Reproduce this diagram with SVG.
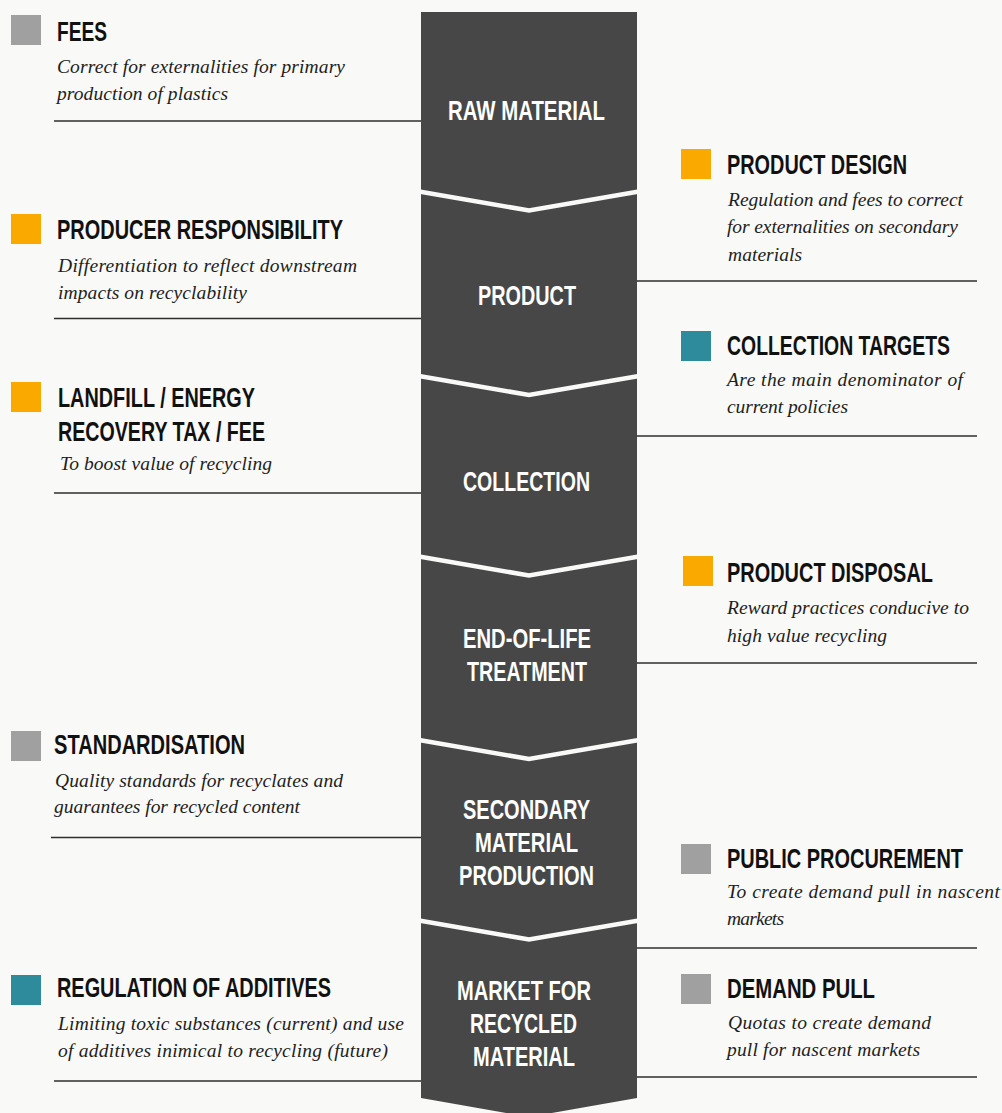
<svg xmlns="http://www.w3.org/2000/svg" width="1002" height="1113" viewBox="0 0 1002 1113">
<style>
.bg{fill:#f9f9f7}
.col{fill:#474747}
.sep{fill:none;stroke:#f9f9f7;stroke-width:4.5;stroke-linejoin:miter}
.h{font-family:"Liberation Sans",Arial,sans-serif;font-weight:bold;font-size:27.5px;fill:#111}
.c{font-family:"Liberation Sans",Arial,sans-serif;font-weight:bold;font-size:27.5px;fill:#fff;text-anchor:middle}
.d{font-family:"Liberation Serif","Times New Roman",serif;font-style:italic;font-size:19.5px;fill:#1e1e1e}
.rule{stroke:#2e2e2e;stroke-width:1.4;fill:none}
.grey{fill:#a0a0a0}
.orange{fill:#f9a900}
.teal{fill:#2e8b9b}
</style>
<rect class="bg" x="0" y="0" width="1002" height="1113"/>

<g id="column">
<path class="col" d="M421,12 H637 V1098 L529,1117 L421,1098 Z"/>
<polyline class="sep" points="419,191.5 529,210.5 639,191.5"/>
<polyline class="sep" points="419,376 529,395 639,376"/>
<polyline class="sep" points="419,556.5 529,575.5 639,556.5"/>
<polyline class="sep" points="419,740 529,759 639,740"/>
<polyline class="sep" points="419,920.5 529,939.5 639,920.5"/>
</g>

<g id="stage-raw-material">
<text class="c" transform="translate(526.5 120) scale(0.72 1)" textLength="218.1" lengthAdjust="spacingAndGlyphs">RAW MATERIAL</text>
</g>
<g id="stage-product">
<text class="c" transform="translate(527 305) scale(0.72 1)" textLength="136.1" lengthAdjust="spacingAndGlyphs">PRODUCT</text>
</g>
<g id="stage-collection">
<text class="c" transform="translate(526.5 491) scale(0.72 1)" textLength="176.4" lengthAdjust="spacingAndGlyphs">COLLECTION</text>
</g>
<g id="stage-end-of-life">
<text class="c" transform="translate(527 648) scale(0.72 1)" textLength="177.8" lengthAdjust="spacingAndGlyphs">END-OF-LIFE</text>
<text class="c" transform="translate(527 681) scale(0.72 1)" textLength="166.7" lengthAdjust="spacingAndGlyphs">TREATMENT</text>
</g>
<g id="stage-secondary">
<text class="c" transform="translate(526.5 819) scale(0.72 1)" textLength="176.4" lengthAdjust="spacingAndGlyphs">SECONDARY</text>
<text class="c" transform="translate(526.5 852) scale(0.72 1)" textLength="143.1" lengthAdjust="spacingAndGlyphs">MATERIAL</text>
<text class="c" transform="translate(526.5 885) scale(0.72 1)" textLength="187.5" lengthAdjust="spacingAndGlyphs">PRODUCTION</text>
</g>
<g id="stage-market">
<text class="c" transform="translate(524 1000) scale(0.72 1)" textLength="186.1" lengthAdjust="spacingAndGlyphs">MARKET FOR</text>
<text class="c" transform="translate(523.5 1033) scale(0.72 1)" textLength="148.6" lengthAdjust="spacingAndGlyphs">RECYCLED</text>
<text class="c" transform="translate(524 1066) scale(0.72 1)" textLength="141.7" lengthAdjust="spacingAndGlyphs">MATERIAL</text>
</g>

<g id="connectors">
<line class="rule" x1="54" y1="121" x2="421" y2="121"/>
<line class="rule" x1="54" y1="318.5" x2="421" y2="318.5"/>
<line class="rule" x1="54" y1="493" x2="421" y2="493"/>
<line class="rule" x1="51" y1="837.5" x2="421" y2="837.5"/>
<line class="rule" x1="54" y1="1081" x2="421" y2="1081"/>
<line class="rule" x1="637" y1="281" x2="977" y2="281"/>
<line class="rule" x1="637" y1="436" x2="977" y2="436"/>
<line class="rule" x1="637" y1="663" x2="977" y2="663"/>
<line class="rule" x1="637" y1="948" x2="977" y2="948"/>
<line class="rule" x1="637" y1="1077" x2="977" y2="1077"/>
</g>

<g id="fees">
<rect class="grey" x="11" y="15" width="30" height="30"/>
<text class="h" transform="translate(57 41) scale(0.72 1)" textLength="69.4" lengthAdjust="spacingAndGlyphs">FEES</text>
<text class="d" x="57" y="73" textLength="288" lengthAdjust="spacing">Correct for externalities for primary</text>
<text class="d" x="57" y="100" textLength="171" lengthAdjust="spacing">production of plastics</text>
</g>

<g id="producer-responsibility">
<rect class="orange" x="11" y="214" width="30" height="30"/>
<text class="h" transform="translate(57 239) scale(0.72 1)" textLength="397.2" lengthAdjust="spacingAndGlyphs">PRODUCER RESPONSIBILITY</text>
<text class="d" x="58" y="272" textLength="299" lengthAdjust="spacing">Differentiation to reflect downstream</text>
<text class="d" x="58" y="299" textLength="189" lengthAdjust="spacing">impacts on recyclability</text>
</g>

<g id="landfill-tax">
<rect class="orange" x="11" y="382" width="30" height="30"/>
<text class="h" transform="translate(58 407) scale(0.72 1)" textLength="273.6" lengthAdjust="spacingAndGlyphs">LANDFILL / ENERGY</text>
<text class="h" transform="translate(58 441) scale(0.72 1)" textLength="287.5" lengthAdjust="spacingAndGlyphs">RECOVERY TAX / FEE</text>
<text class="d" x="60" y="470" textLength="212" lengthAdjust="spacing">To boost value of recycling</text>
</g>

<g id="standardisation">
<rect class="grey" x="11" y="731" width="30" height="30"/>
<text class="h" transform="translate(54 754) scale(0.72 1)" textLength="265.3" lengthAdjust="spacingAndGlyphs">STANDARDISATION</text>
<text class="d" x="55" y="787" textLength="288" lengthAdjust="spacing">Quality standards for recyclates and</text>
<text class="d" x="54" y="813" textLength="246" lengthAdjust="spacing">guarantees for recycled content</text>
</g>

<g id="regulation-additives">
<rect class="teal" x="11" y="975" width="30" height="30"/>
<text class="h" transform="translate(57 997) scale(0.72 1)" textLength="380.6" lengthAdjust="spacingAndGlyphs">REGULATION OF ADDITIVES</text>
<text class="d" x="58" y="1030" textLength="346" lengthAdjust="spacing">Limiting toxic substances (current) and use</text>
<text class="d" x="58" y="1057" textLength="330" lengthAdjust="spacing">of additives inimical to recycling (future)</text>
</g>

<g id="product-design">
<rect class="orange" x="681" y="149" width="30" height="30"/>
<text class="h" transform="translate(727 174) scale(0.72 1)" textLength="250" lengthAdjust="spacingAndGlyphs">PRODUCT DESIGN</text>
<text class="d" x="728" y="206" textLength="235" lengthAdjust="spacing">Regulation and fees to correct</text>
<text class="d" x="727" y="233" textLength="231" lengthAdjust="spacing">for externalities on secondary</text>
<text class="d" x="728" y="261" textLength="74" lengthAdjust="spacing">materials</text>
</g>

<g id="collection-targets">
<rect class="teal" x="681" y="331" width="30" height="30"/>
<text class="h" transform="translate(727 355) scale(0.72 1)" textLength="309.7" lengthAdjust="spacingAndGlyphs">COLLECTION TARGETS</text>
<text class="d" x="727" y="386" textLength="236" lengthAdjust="spacing">Are the main denominator of</text>
<text class="d" x="727" y="413" textLength="121" lengthAdjust="spacing">current policies</text>
</g>

<g id="product-disposal">
<rect class="orange" x="683" y="556" width="30" height="30"/>
<text class="h" transform="translate(727 582) scale(0.72 1)" textLength="286.1" lengthAdjust="spacingAndGlyphs">PRODUCT DISPOSAL</text>
<text class="d" x="727" y="614" textLength="242" lengthAdjust="spacing">Reward practices conducive to</text>
<text class="d" x="727" y="642" textLength="160" lengthAdjust="spacing">high value recycling</text>
</g>

<g id="public-procurement">
<rect class="grey" x="681" y="844" width="30" height="30"/>
<text class="h" transform="translate(727 868) scale(0.72 1)" textLength="327.8" lengthAdjust="spacingAndGlyphs">PUBLIC PROCUREMENT</text>
<text class="d" x="727" y="898" textLength="273" lengthAdjust="spacing">To create demand pull in nascent</text>
<text class="d" x="727" y="925" textLength="57" lengthAdjust="spacing">markets</text>
</g>

<g id="demand-pull">
<rect class="grey" x="681" y="974" width="30" height="30"/>
<text class="h" transform="translate(727 998) scale(0.72 1)" textLength="205.6" lengthAdjust="spacingAndGlyphs">DEMAND PULL</text>
<text class="d" x="728" y="1029" textLength="203" lengthAdjust="spacing">Quotas to create demand</text>
<text class="d" x="727" y="1056" textLength="193" lengthAdjust="spacing">pull for nascent markets</text>
</g>
</svg>
